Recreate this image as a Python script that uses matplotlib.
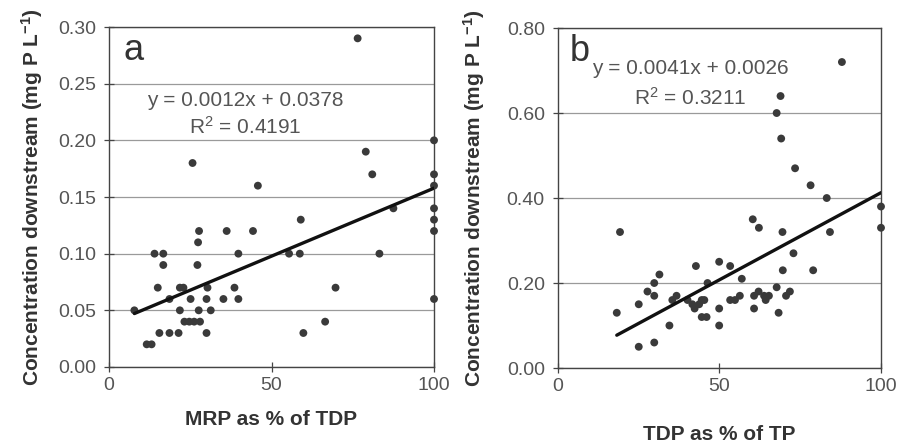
import matplotlib
matplotlib.use("Agg")
import matplotlib.pyplot as plt
import numpy as np

plt.rcParams['font.family'] = ['Liberation Sans', 'DejaVu Sans']
plt.rcParams['mathtext.default'] = 'regular'

# Panel a: MRP as % of TDP vs downstream concentration
mrp_pct = [76.5, 25.7, 45.8, 79, 81, 100, 100, 100,
           87.5, 100, 100, 100, 59, 27.7, 36.2, 44.3, 27.4,
           14, 16.7, 39.8, 55.4, 58.7, 83.2, 16.7, 27.2,
           15, 21.8, 22.9, 30.3, 38.6, 69.7,
           18.6, 25.1, 30, 35.2, 39.8, 100,
           7.8, 21.8, 27.6, 31.3,
           23.2, 24.7, 26.2, 28, 66.5,
           15.5, 18.6, 21.4, 30, 59.8,
           11.6, 13.1]
conc_a = [0.29, 0.18, 0.16, 0.19, 0.17, 0.20, 0.17, 0.16,
          0.14, 0.14, 0.13, 0.12, 0.13, 0.12, 0.12, 0.12, 0.11,
          0.10, 0.10, 0.10, 0.10, 0.10, 0.10, 0.09, 0.09,
          0.07, 0.07, 0.07, 0.07, 0.07, 0.07,
          0.06, 0.06, 0.06, 0.06, 0.06, 0.06,
          0.05, 0.05, 0.05, 0.05,
          0.04, 0.04, 0.04, 0.04, 0.04,
          0.03, 0.03, 0.03, 0.03, 0.03,
          0.02, 0.02]
slope_a, icpt_a = 0.0012, 0.0378
r2_a = 0.4191

# Panel b: TDP as % of TP vs downstream concentration
tdp_pct = [87.9, 68.9, 67.7, 69.1, 73.4, 78.2, 83.2,
           100, 100, 84.2, 19.2, 60.3, 62.2, 69.5, 72.9, 69.6, 79,
           42.7, 49.9, 53.3, 56.9, 31.4, 29.8, 27.7, 29.8, 46.3, 67.7,
           25, 18.2, 34.5, 25, 29.8, 49.9, 49.9, 44.5, 46, 60.7, 68.3,
           36.7, 35.4, 40.1, 41.6, 42.3, 44.5, 45.3, 43.7, 53.3, 54.8,
           56.3, 60.7, 62.1, 63.8, 65.3, 64.3, 70.6, 71.8]
conc_b = [0.72, 0.64, 0.60, 0.54, 0.47, 0.43, 0.40,
          0.38, 0.33, 0.32, 0.32, 0.35, 0.33, 0.32, 0.27, 0.23, 0.23,
          0.24, 0.25, 0.24, 0.21, 0.22, 0.20, 0.18, 0.17, 0.20, 0.19,
          0.15, 0.13, 0.10, 0.05, 0.06, 0.14, 0.10, 0.12, 0.12, 0.14, 0.13,
          0.17, 0.16, 0.16, 0.15, 0.14, 0.16, 0.16, 0.15, 0.16, 0.16,
          0.17, 0.17, 0.18, 0.17, 0.17, 0.16, 0.17, 0.18]
slope_b, icpt_b = 0.0041, 0.0026
r2_b = 0.3211

ylabel = 'Concentration downstream (mg P L$^{-1}$)'
tick_col = '#555555'
text_col = '#333333'
dot_col = '#3a3a3a'

fig = plt.figure(figsize=(9.01, 4.45), dpi=100)
ax_a = fig.add_axes([0.121, 0.1753, 0.3607, 0.764])
ax_b = fig.add_axes([0.6193, 0.173, 0.3585, 0.764])


def style(ax, ymax, ystep, yfmt):
    ax.set_xlim(0, 100)
    ax.set_ylim(0, ymax)
    ax.set_xticks([0, 50, 100])
    ax.set_yticks(np.arange(0, ymax + ystep / 2, ystep))
    ax.yaxis.set_major_formatter(matplotlib.ticker.FormatStrFormatter(yfmt))
    ax.grid(axis='y', color='#9a9a9a', linewidth=0.9)
    ax.set_axisbelow(True)
    for s in ax.spines.values():
        s.set_color('#444444')
        s.set_linewidth(1.0)
    ax.tick_params(direction='inout', length=7, width=0.9, color='#444444',
                   labelsize=14, labelcolor=tick_col)
    ax.tick_params(axis='y', pad=6)
    ax.tick_params(axis='x', pad=4)


style(ax_a, 0.30, 0.05, '%.2f')
style(ax_b, 0.80, 0.20, '%.2f')

for ax, xs, ys, m, c, xlab, xpad, ypad in [
        (ax_a, mrp_pct, conc_a, slope_a, icpt_a, 'MRP as % of TDP', 11, 9),
        (ax_b, tdp_pct, conc_b, slope_b, icpt_b, 'TDP as % of TP', 21, 14)]:
    ax.scatter(xs, ys, s=32, color=dot_col, edgecolors='none', zorder=3,
               clip_on=False)
    x0, x1 = min(xs), max(xs)
    ax.plot([x0, x1], [m * x0 + c, m * x1 + c], color='#111111',
            linewidth=2.4, zorder=4, solid_capstyle='round')
    ax.set_xlabel(xlab, fontsize=15, fontweight='bold', color=text_col,
                  labelpad=xpad)
    ax.set_ylabel(ylabel, fontsize=15, fontweight='bold', color=text_col,
                  labelpad=ypad)

# panel letters and regression equations
ax_a.text(0.045, 0.93, 'a', transform=ax_a.transAxes, fontsize=26,
          color=text_col, va='center', ha='left')
ax_a.text(0.42, 0.785, f'y = {slope_a:.4f}x + {icpt_a:.4f}', transform=ax_a.transAxes,
          fontsize=15, color='#555555', ha='center', va='center')
ax_a.text(0.42, 0.705, f'R$^2$ = {r2_a:.4f}', transform=ax_a.transAxes,
          fontsize=15, color='#555555', ha='center', va='center')

ax_b.text(0.035, 0.93, 'b', transform=ax_b.transAxes, fontsize=26,
          color=text_col, va='center', ha='left')
ax_b.text(0.41, 0.88, f'y = {slope_b:.4f}x + {icpt_b:.4f}', transform=ax_b.transAxes,
          fontsize=15, color='#555555', ha='center', va='center')
ax_b.text(0.41, 0.795, f'R$^2$ = {r2_b:.4f}', transform=ax_b.transAxes,
          fontsize=15, color='#555555', ha='center', va='center')

fig.savefig('out.png', dpi=100)
